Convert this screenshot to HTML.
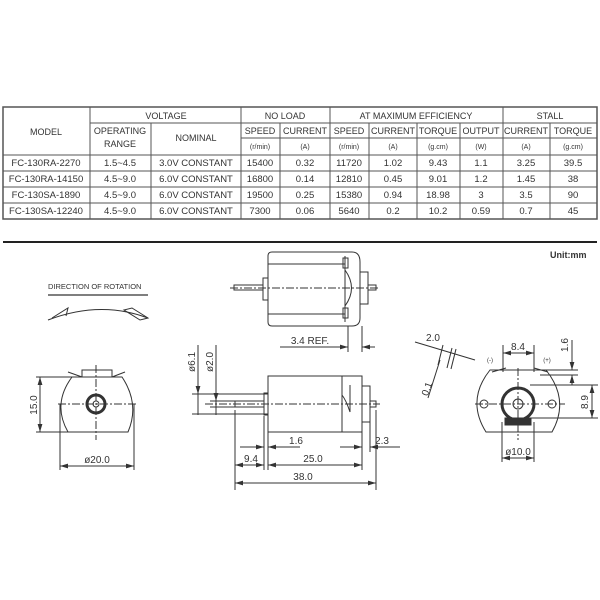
<!DOCTYPE html>
<html><head><meta charset="utf-8"><style>
body{margin:0;background:#fff;width:600px;height:600px;overflow:hidden;font-family:"Liberation Sans",sans-serif}
svg{position:absolute;left:0;top:0}
text{font-family:"Liberation Sans",sans-serif;fill:#333}
</style></head><body>
<svg width="600" height="600" viewBox="0 0 600 600">
<defs>
<marker id="a" viewBox="0 0 10 6" refX="10" refY="3" markerWidth="8" markerHeight="5" orient="auto-start-reverse"><path d="M0 0L10 3L0 6Z" fill="#333"/></marker>
</defs>
<g stroke="#555" stroke-width="1" fill="none">
<rect x="3" y="107" width="594" height="112" stroke-width="1.5"/>
<line x1="3" y1="155" x2="597" y2="155"/>
<line x1="3" y1="171" x2="597" y2="171"/>
<line x1="3" y1="187" x2="597" y2="187"/>
<line x1="3" y1="203" x2="597" y2="203"/>
<line x1="90" y1="123" x2="597" y2="123"/>
<line x1="241" y1="138" x2="597" y2="138"/>
<line x1="90" y1="107" x2="90" y2="219"/>
<line x1="151" y1="123" x2="151" y2="219"/>
<line x1="241" y1="107" x2="241" y2="219"/>
<line x1="280" y1="123" x2="280" y2="219"/>
<line x1="330" y1="107" x2="330" y2="219"/>
<line x1="369" y1="123" x2="369" y2="219"/>
<line x1="417" y1="123" x2="417" y2="219"/>
<line x1="460" y1="123" x2="460" y2="219"/>
<line x1="503" y1="107" x2="503" y2="219"/>
<line x1="550" y1="123" x2="550" y2="219"/>
<line x1="3" y1="242" x2="597" y2="242" stroke="#222" stroke-width="2"/>
</g>
<g font-size="9" text-anchor="middle">
<text x="46" y="135">MODEL</text>
<text x="166" y="119">VOLTAGE</text>
<text x="285" y="119">NO LOAD</text>
<text x="416" y="119">AT MAXIMUM EFFICIENCY</text>
<text x="550" y="119">STALL</text>
<text x="120" y="134">OPERATING</text><text x="120" y="147">RANGE</text>
<text x="196" y="141">NOMINAL</text>
<text x="260" y="134">SPEED</text><text x="305" y="134">CURRENT</text>
<text x="349" y="134">SPEED</text><text x="393" y="134">CURRENT</text>
<text x="438" y="134">TORQUE</text><text x="481" y="134">OUTPUT</text>
<text x="526" y="134">CURRENT</text><text x="573" y="134">TORQUE</text>
<g font-size="7"><text x="260" y="149">(r/min)</text><text x="305" y="149">(A)</text><text x="349" y="149">(r/min)</text><text x="393" y="149">(A)</text><text x="438" y="149">(g.cm)</text><text x="481" y="149">(W)</text><text x="526" y="149">(A)</text><text x="573" y="149">(g.cm)</text></g>
</g>
<g font-size="9.5" text-anchor="middle">
<g transform="translate(0,166)"><text x="46">FC-130RA-2270</text><text x="120">1.5~4.5</text><text x="196">3.0V CONSTANT</text><text x="260">15400</text><text x="305">0.32</text><text x="349">11720</text><text x="393">1.02</text><text x="438">9.43</text><text x="481">1.1</text><text x="526">3.25</text><text x="573">39.5</text></g>
<g transform="translate(0,182)"><text x="46">FC-130RA-14150</text><text x="120">4.5~9.0</text><text x="196">6.0V CONSTANT</text><text x="260">16800</text><text x="305">0.14</text><text x="349">12810</text><text x="393">0.45</text><text x="438">9.01</text><text x="481">1.2</text><text x="526">1.45</text><text x="573">38</text></g>
<g transform="translate(0,198)"><text x="46">FC-130SA-1890</text><text x="120">4.5~9.0</text><text x="196">6.0V CONSTANT</text><text x="260">19500</text><text x="305">0.25</text><text x="349">15380</text><text x="393">0.94</text><text x="438">18.98</text><text x="481">3</text><text x="526">3.5</text><text x="573">90</text></g>
<g transform="translate(0,214)"><text x="46">FC-130SA-12240</text><text x="120">4.5~9.0</text><text x="196">6.0V CONSTANT</text><text x="260">7300</text><text x="305">0.06</text><text x="349">5640</text><text x="393">0.2</text><text x="438">10.2</text><text x="481">0.59</text><text x="526">0.7</text><text x="573">45</text></g>
</g>
<text x="550" y="258" font-size="9" font-weight="bold" fill="#111">Unit:mm</text>
<text x="48" y="289" font-size="7.5">DIRECTION OF ROTATION</text>
<line x1="48" y1="295" x2="148" y2="295" stroke="#555" stroke-width="1.5"/>
<g stroke="#333" fill="none" stroke-width="1">
<path d="M48 320 Q100 300 148 318"/>
<path d="M52 318 L68 308 L66 316"/>
<path d="M124 310 L132 308 L148 318 L140 320 Z"/>
<path d="M268 256 Q268 252 272 252 L352 252 Q360 252 360 262 L360 318 Q360 326 352 326 L272 326 Q268 326 268 322 Z"/>
<line x1="268" y1="264" x2="345" y2="264"/><line x1="268" y1="314" x2="345" y2="314"/>
<rect x="263" y="278" width="5" height="22"/>
<rect x="360" y="272" width="8" height="32"/>
<path d="M345 256 L345 322 M345 270 Q358 288 345 306"/>
<rect x="343" y="258" width="5" height="10"/><rect x="343" y="308" width="5" height="10"/>
<rect x="234" y="285" width="29" height="5"/><rect x="368" y="285" width="8" height="5"/>
<line x1="230" y1="288" x2="380" y2="288" stroke-dasharray="8 2 2 2"/>
<line x1="348" y1="326" x2="348" y2="352"/><line x1="362" y1="326" x2="362" y2="352"/>
<line x1="280" y1="347" x2="348" y2="347"/>
<line x1="335" y1="347" x2="348" y2="347" marker-end="url(#a)"/>
<line x1="375" y1="347" x2="362" y2="347" marker-end="url(#a)"/>
<rect x="268" y="376" width="94" height="56"/>
<path d="M342 376 L342 432 M350 385 L350 412 Q346 400 342 395"/>
<rect x="264" y="393" width="4" height="22"/>
<rect x="362" y="386" width="8" height="36"/>
<rect x="235" y="401" width="29" height="6"/><rect x="370" y="401" width="6" height="6"/>
<line x1="205" y1="404" x2="380" y2="404" stroke-dasharray="8 2 2 2"/>
<line x1="192" y1="394" x2="268" y2="394"/><line x1="192" y1="414" x2="268" y2="414"/>
<line x1="210" y1="401" x2="235" y2="401"/><line x1="210" y1="407" x2="235" y2="407"/>
<line x1="198" y1="345" x2="198" y2="415"/><line x1="216" y1="345" x2="216" y2="415"/>
<line x1="235" y1="410" x2="235" y2="490"/><line x1="264" y1="416" x2="264" y2="470"/>
<line x1="268" y1="432" x2="268" y2="470"/><line x1="362" y1="432" x2="362" y2="470"/>
<line x1="370" y1="422" x2="370" y2="452"/><line x1="376" y1="410" x2="376" y2="490"/>
<line x1="240" y1="447" x2="264" y2="447" marker-end="url(#a)"/><line x1="300" y1="447" x2="268" y2="447" marker-end="url(#a)"/>
<line x1="340" y1="447" x2="362" y2="447" marker-end="url(#a)"/><line x1="400" y1="447" x2="370" y2="447" marker-end="url(#a)"/>
<line x1="235" y1="465" x2="264" y2="465" marker-start="url(#a)" marker-end="url(#a)"/>
<line x1="268" y1="465" x2="362" y2="465" marker-start="url(#a)" marker-end="url(#a)"/>
<line x1="235" y1="483" x2="376" y2="483" marker-start="url(#a)" marker-end="url(#a)"/>
<line x1="198" y1="385" x2="198" y2="394" marker-end="url(#a)"/>
<line x1="216" y1="392" x2="216" y2="401" marker-end="url(#a)"/>
<path d="M72 377 L122 377 Q140 404 128 432 L68 432 Q52 404 72 377 Z"/>
<rect x="82" y="370" width="30" height="7"/>
<line x1="68" y1="372" x2="82" y2="377"/><line x1="112" y1="377" x2="125" y2="372"/>
<circle cx="96" cy="404" r="9" stroke-width="3"/><circle cx="96" cy="404" r="3"/>
<line x1="58" y1="404" x2="138" y2="404" stroke-dasharray="8 2 2 2"/>
<line x1="96" y1="365" x2="96" y2="440" stroke-dasharray="8 2 2 2"/>
<line x1="36" y1="377" x2="72" y2="377"/><line x1="36" y1="432" x2="68" y2="432"/>
<line x1="40" y1="377" x2="40" y2="432" marker-start="url(#a)" marker-end="url(#a)"/>
<line x1="60" y1="404" x2="60" y2="470"/><line x1="134" y1="404" x2="134" y2="470"/>
<line x1="60" y1="466" x2="134" y2="466" marker-start="url(#a)" marker-end="url(#a)"/>
<path d="M490 370 L546 370 Q570 400 552 432 L486 432 Q466 400 490 370 Z"/>
<line x1="492" y1="372" x2="506" y2="368"/><line x1="534" y1="368" x2="548" y2="372"/>
<circle cx="518" cy="404" r="16" stroke-width="3"/><circle cx="518" cy="404" r="5"/>
<circle cx="484" cy="404" r="4"/><circle cx="552" cy="404" r="4"/>
<rect x="505" y="418" width="26" height="7" fill="#333"/>
<line x1="475" y1="404" x2="565" y2="404" stroke-dasharray="8 2 2 2"/>
<line x1="518" y1="368" x2="518" y2="440" stroke-dasharray="8 2 2 2"/>
<line x1="502" y1="422" x2="502" y2="462"/><line x1="534" y1="422" x2="534" y2="462"/>
<line x1="502" y1="458" x2="534" y2="458" marker-start="url(#a)" marker-end="url(#a)"/>
<line x1="503" y1="345" x2="503" y2="372"/><line x1="534" y1="345" x2="534" y2="372"/>
<line x1="503" y1="353" x2="534" y2="353" marker-start="url(#a)" marker-end="url(#a)"/>
<line x1="572" y1="340" x2="572" y2="370" marker-end="url(#a)"/>
<line x1="572" y1="385" x2="572" y2="375" marker-end="url(#a)"/>
<line x1="540" y1="370" x2="578" y2="370"/><line x1="540" y1="375" x2="578" y2="375"/>
<line x1="530" y1="385" x2="598" y2="385"/><line x1="530" y1="418" x2="598" y2="418"/>
<line x1="592" y1="385" x2="592" y2="418" marker-start="url(#a)" marker-end="url(#a)"/>
<line x1="415" y1="342" x2="475" y2="360"/>
<line x1="443" y1="345" x2="438" y2="365"/><line x1="452" y1="348" x2="447" y2="368"/><line x1="456" y1="349" x2="451" y2="369"/>
<line x1="440" y1="360" x2="428" y2="398"/>
</g>
<g font-size="10" text-anchor="middle" fill="#333">
<text x="310" y="344">3.4  REF.</text>
<text x="296" y="444">1.6</text>
<text x="382" y="444">2.3</text>
<text x="251" y="462">9.4</text>
<text x="313" y="462">25.0</text>
<text x="303" y="480">38.0</text>
<text x="97" y="463">ø20.0</text>
<text x="518" y="455">ø10.0</text>
<text x="518" y="350">8.4</text>
<text x="433" y="341">2.0</text>
<text x="490" y="362" font-size="6">(-)</text>
<text x="547" y="362" font-size="6">(+)</text>
<text transform="translate(37,405) rotate(-90)">15.0</text>
<text transform="translate(195,362) rotate(-90)">ø6.1</text>
<text transform="translate(213,362) rotate(-90)">ø2.0</text>
<text transform="translate(568,345) rotate(-90)">1.6</text>
<text transform="translate(588,402) rotate(-90)">8.9</text>
<text transform="translate(430,390) rotate(-70)">0.1</text>
</g>
</svg>
</body></html>
